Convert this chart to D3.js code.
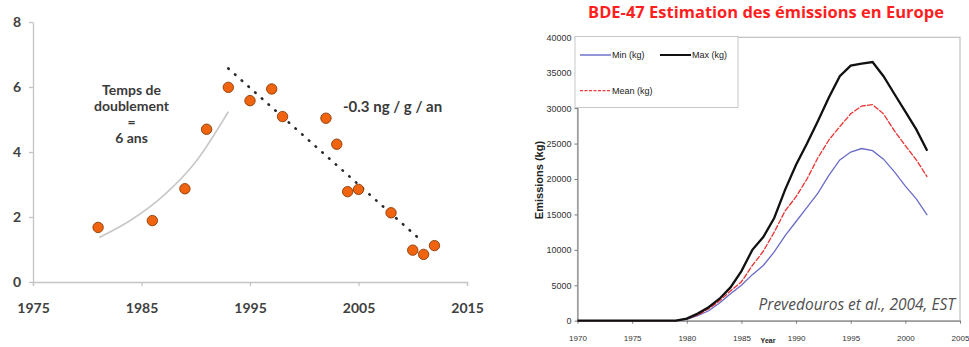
<!DOCTYPE html>
<html>
<head>
<meta charset="utf-8">
<script src="https://cdnjs.cloudflare.com/ajax/libs/d3/7.8.5/d3.min.js"></script>
<style>
    body { margin: 0; background: #fff; }
    .left-axis text { font-family: Lato, "Open Sans", sans-serif; font-weight: bold; font-size: 14px; fill: #404040; }
    .left-axis path, .left-axis line { stroke: #c4c4c4; stroke-width: 1.3px; }
    .right-axis text { font-family: "Liberation Sans", Arial, sans-serif; font-size: 8px; fill: #333; }
    .right-axis path, .right-axis line { stroke: #7a7a7a; stroke-width: 1px; }
    .note { font-family: Lato, "Open Sans", sans-serif; font-weight: bold; font-size: 14px; fill: #3a3a3a; }
    .legend-text { font-family: "Liberation Sans", Arial, sans-serif; font-size: 9px; fill: #222; }
</style>
</head>
<body>
<div id="chart"></div>
<script>

// ---- left panel: concentrations (ng/g) ----
var sampleYears = [1981, 1986, 1989, 1991, 1993, 1995, 1997, 1998, 2002, 2003, 2004, 2005, 2008, 2010, 2011, 2012];
var sampleConc  = [1.68, 1.89, 2.87, 4.70, 5.99, 5.58, 5.94, 5.09, 5.04, 4.24, 2.78, 2.85, 2.13, 0.98, 0.85, 1.12];
var growthYears = [1981.1, 1984, 1987, 1990, 1993];
var growthConc  = [1.37, 1.9, 2.65, 3.7, 5.24];
var declineYears = [1993, 2010.8];
var declineConc  = [6.57, 1.27];
var leftXTicks = [1975, 1985, 1995, 2005, 2015];
var leftYTicks = [0, 2, 4, 6, 8];

// ---- right panel: BDE-47 emissions in Europe (kg) ----
var emYears = [1970, 1971, 1972, 1973, 1974, 1975, 1976, 1977, 1978, 1979,
               1980, 1981, 1982, 1983, 1984, 1985, 1986, 1987, 1988, 1989,
               1990, 1991, 1992, 1993, 1994, 1995, 1996, 1997, 1998, 1999,
               2000, 2001, 2002];
var emMin  = [0, 0, 0, 0, 0, 0, 0, 0, 0, 0,
              200, 700, 1400, 2500, 3800, 5000, 6500, 7800, 9700, 12000,
              14000, 16000, 18000, 20500, 22700, 23800, 24300, 24000, 22800, 21000,
              19000, 17200, 14900];
var emMax  = [0, 0, 0, 0, 0, 0, 0, 0, 0, 0,
              300, 1000, 1900, 3100, 4700, 7000, 10000, 11800, 14500, 18500,
              22000, 25000, 28200, 31500, 34500, 36000, 36300, 36500, 34500, 32000,
              29500, 27000, 24000];
var emMean = [0, 0, 0, 0, 0, 0, 0, 0, 0, 0,
              250, 800, 1700, 2800, 4200, 5500, 7800, 9800, 12500, 15500,
              17500, 20000, 23000, 25500, 27400, 29200, 30300, 30500, 29200, 26800,
              24700, 22700, 20300];
var rightXTicks = [1970, 1975, 1980, 1985, 1990, 1995, 2000, 2005];
var rightYTicks = [0, 5000, 10000, 15000, 20000, 25000, 30000, 35000, 40000];

var width = 969, height = 347;

var svg = d3.select("#chart")
    .append("svg")
    .attr("width", width)
    .attr("height", height);

// ================= left chart =================
var xL = d3.scaleLinear().domain([1975, 2015]).range([33, 467]);
var yL = d3.scaleLinear().domain([0, 8]).range([282, 22]);

svg.append("g")
    .attr("class", "left-axis")
    .attr("transform", "translate(0," + yL(0) + ")")
    .call(d3.axisBottom(xL).tickValues(leftXTicks).tickFormat(d3.format("d")).tickSize(4).tickSizeOuter(4).tickPadding(17));

svg.append("g")
    .attr("class", "left-axis")
    .attr("transform", "translate(" + xL(1975) + ",0)")
    .call(d3.axisLeft(yL).tickValues(leftYTicks).tickSize(4).tickSizeOuter(0).tickPadding(8));

// exponential growth fit
var growthLine = d3.line()
    .x(function(d, i) { return xL(growthYears[i]); })
    .y(function(d) { return yL(d); })
    .curve(d3.curveMonotoneX);
svg.append("path")
    .attr("d", growthLine(growthConc))
    .attr("fill", "none")
    .attr("stroke", "#c8c8c8")
    .attr("stroke-width", 1.6);

// linear decline fit (dotted)
var declineLine = d3.line()
    .x(function(d, i) { return xL(declineYears[i]); })
    .y(function(d) { return yL(d); });
svg.append("path")
    .attr("d", declineLine(declineConc))
    .attr("fill", "none")
    .attr("stroke", "#2a2a2a")
    .attr("stroke-width", 2.6)
    .attr("stroke-linecap", "round")
    .attr("stroke-dasharray", "0.5,8.5");

svg.selectAll(".dot")
    .data(sampleConc)
    .enter().append("circle")
    .attr("class", "dot")
    .attr("r", 5.2)
    .attr("cx", function(d, i) { return xL(sampleYears[i]); })
    .attr("cy", function(d) { return yL(d); })
    .attr("fill", "#f06410")
    .attr("stroke", "#8a3a05")
    .attr("stroke-width", 0.9);

// annotations
var noteLines = ["Temps de", "doublement", "=", "6 ans"];
svg.selectAll(".note-line")
    .data(noteLines)
    .enter().append("text")
    .attr("class", "note")
    .attr("text-anchor", "middle")
    .attr("x", 131.5)
    .attr("y", function(d, i) { return 95 + i * 16; })
    .text(function(d) { return d; });

svg.append("text")
    .attr("class", "note")
    .style("font-size", "15px")
    .attr("x", 343)
    .attr("y", 112)
    .text("-0.3 ng / g / an");

// ================= right chart =================
var xR = d3.scaleLinear().domain([1970, 2005]).range([577.5, 960]);
var yR = d3.scaleLinear().domain([0, 40000]).range([320.7, 37.3]);

svg.append("text")
    .attr("x", 766)
    .attr("y", 18)
    .attr("text-anchor", "middle")
    .style("font-family", "'Open Sans', sans-serif")
    .style("font-weight", "bold")
    .style("font-size", "16.5px")
    .style("fill", "#ff1f1f")
    .text("BDE-47 Estimation des émissions en Europe");

// plot frame
svg.append("rect")
    .attr("x", xR(1970))
    .attr("y", yR(40000))
    .attr("width", xR(2005) - xR(1970))
    .attr("height", yR(0) - yR(40000))
    .attr("fill", "none")
    .attr("stroke", "#c0c0c0")
    .attr("stroke-width", 1.2);

svg.append("g")
    .attr("class", "right-axis")
    .attr("transform", "translate(0," + yR(0) + ")")
    .call(d3.axisBottom(xR).tickValues(rightXTicks).tickFormat(d3.format("d")).tickSize(3).tickSizeOuter(0).tickPadding(12));

svg.append("g")
    .attr("class", "right-axis")
    .attr("transform", "translate(" + xR(1970) + ",0)")
    .call(d3.axisLeft(yR).tickValues(rightYTicks).tickFormat(d3.format("d")).tickSize(3).tickSizeOuter(0).tickPadding(3))
    .selectAll("text").style("font-size", "9px");

var emLine = d3.line()
    .x(function(d, i) { return xR(emYears[i]); })
    .y(function(d) { return yR(d); });

svg.append("path")
    .attr("d", emLine(emMin))
    .attr("fill", "none")
    .attr("stroke", "#6a6ac8")
    .attr("stroke-width", 1.3);
svg.append("path")
    .attr("d", emLine(emMean))
    .attr("fill", "none")
    .attr("stroke", "#ee2f2f")
    .attr("stroke-width", 1.3)
    .attr("stroke-dasharray", "6,1.2");
svg.append("path")
    .attr("d", emLine(emMax))
    .attr("fill", "none")
    .attr("stroke", "#111")
    .attr("stroke-width", 2.3);

// legend
var legendSeries = [
    {name: "Min (kg)", color: "#7a7ad0", width: 1.6, dash: null, x: 580, y: 55},
    {name: "Max (kg)", color: "#111", width: 2, dash: null, x: 660, y: 55},
    {name: "Mean (kg)", color: "#ee3a3a", width: 1.3, dash: "3,1.5", x: 580, y: 90.7}
];
svg.append("rect")
    .attr("x", 575)
    .attr("y", 36.5)
    .attr("width", 163)
    .attr("height", 71)
    .attr("fill", "#fff")
    .attr("stroke", "#c8c8c8")
    .attr("stroke-width", 1);
var legend = svg.selectAll(".legend-item")
    .data(legendSeries)
    .enter().append("g")
    .attr("class", "legend-item");
legend.append("line")
    .attr("x1", function(d) { return d.x; })
    .attr("x2", function(d) { return d.x + 31; })
    .attr("y1", function(d) { return d.y; })
    .attr("y2", function(d) { return d.y; })
    .attr("stroke", function(d) { return d.color; })
    .attr("stroke-width", function(d) { return d.width; })
    .attr("stroke-dasharray", function(d) { return d.dash; });
legend.append("text")
    .attr("class", "legend-text")
    .attr("x", function(d) { return d.x + 32; })
    .attr("y", function(d) { return d.y + 3; })
    .text(function(d) { return d.name; });

// axis titles
svg.append("text")
    .attr("transform", "translate(543,180) rotate(-90)")
    .attr("text-anchor", "middle")
    .style("font-family", "'Liberation Sans', Arial, sans-serif")
    .style("font-weight", "bold")
    .style("font-size", "11px")
    .style("fill", "#222")
    .text("Emissions (kg)");

svg.append("text")
    .attr("x", 768)
    .attr("y", 343)
    .attr("text-anchor", "middle")
    .style("font-family", "'Liberation Sans', Arial, sans-serif")
    .style("font-weight", "bold")
    .style("font-size", "7px")
    .style("fill", "#222")
    .text("Year");

svg.append("text")
    .attr("x", 955)
    .attr("y", 310)
    .attr("text-anchor", "end")
    .style("font-family", "'Open Sans', sans-serif")
    .style("font-style", "italic")
    .style("font-size", "15.5px")
    .style("fill", "#505050")
    .text("Prevedouros et al., 2004, EST");

</script>
</body>
</html>
